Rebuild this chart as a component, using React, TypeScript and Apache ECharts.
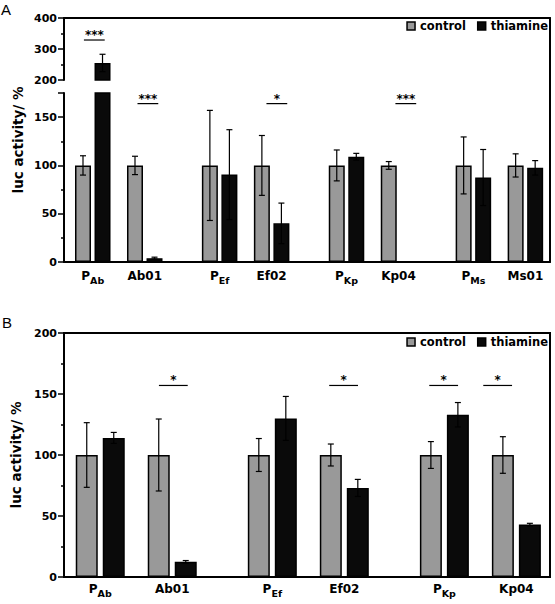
import React, { useEffect, useRef } from 'react';
import * as echarts from 'echarts';

// ---- Panel A: eight constructs, broken y axis (0–175 and 200–400) ----
const labelsA: [string, string][] = [
  ['P', 'Ab'], ['Ab01', ''], ['P', 'Ef'], ['Ef02', ''],
  ['P', 'Kp'], ['Kp04', ''], ['P', 'Ms'], ['Ms01', ''],
];
// group centres on the x value axis (pairs are spaced wider than their members)
const groupPosA = [0, 1, 2.44, 3.44, 4.88, 5.88, 7.32, 8.32];
const controlA = [100, 100, 100, 100, 100, 100, 100, 100];
const controlErrA = [10, 9.5, 57, 31, 16, 4, 29.5, 12];
const thiamineA = [255, 4, 90.5, 40, 109, 0, 87.5, 97.5];
const thiamineErrA = [28, 1, 46.5, 21, 3.5, 0, 29, 7.5];
const sigA = [
  { group: 0, y: 329, mark: '***', shift: 0.03 },
  { group: 1, y: 164, mark: '***', shift: 0.06 },
  { group: 3, y: 164, mark: '*', shift: 0.1 },
  { group: 5, y: 164, mark: '***', shift: 0.14 },
];

// ---- Panel B: six constructs ----
const labelsB: [string, string][] = [
  ['P', 'Ab'], ['Ab01', ''], ['P', 'Ef'], ['Ef02', ''], ['P', 'Kp'], ['Kp04', ''],
];
const groupPosB = [0, 1, 2.39, 3.39, 4.78, 5.78];
const controlB = [100, 100, 100, 100, 100, 100];
const controlErrB = [26.5, 29.5, 13.5, 9, 11, 15];
const thiamineB = [114, 12.5, 130, 73, 133, 43];
const thiamineErrB = [4.5, 1, 18, 7, 10, 1];
const sigB = [
  { group: 1, y: 157, mark: '*', shift: 0.015 },
  { group: 3, y: 157, mark: '*', shift: -0.01 },
  { group: 4, y: 157, mark: '*', shift: -0.01 },
  { group: 5, y: 157, mark: '*', shift: -0.26 },
];

const yTicksUpperA = [200, 300, 400];
const yTicksLowerA = [0, 50, 100, 150];
const yMinorLowerA = [25, 75, 125];

const FONT = 'DejaVu Sans';
const GRAY = '#999999';
const BLACK = '#0a0a0a';

const xFormatter = (labels: [string, string][], pos: number[]) => (v: number) => {
  const i = pos.findIndex((p) => Math.abs(p - v) < 1e-6);
  if (i < 0) return '';
  const [m, s] = labels[i];
  return s ? `{n|${m}}{s|${s}}` : `{n|${m}}`;
};

const xRich = {
  n: { fontSize: 12, fontWeight: 'bold', lineHeight: 18, color: '#000', fontFamily: FONT },
  s: { fontSize: 9.5, fontWeight: 'bold', lineHeight: 8, verticalAlign: 'bottom', color: '#000', fontFamily: FONT },
};

const errorRender = (offsetPx: number) => (params: any, api: any) => {
  const x = api.value(0);
  const v = api.value(1);
  const e = api.value(2);
  const side = api.value(3);
  if (!e) return null;
  const c = api.coord([x, v]);
  const hi = api.coord([x, v + e]);
  const lo = api.coord([x, v - e]);
  const cx = c[0] + side * offsetPx;
  const half = 3;
  const style = { stroke: '#000', lineWidth: 1.2 };
  return {
    type: 'group',
    children: [
      { type: 'line', shape: { x1: cx, y1: hi[1], x2: cx, y2: lo[1] }, style },
      { type: 'line', shape: { x1: cx - half, y1: hi[1], x2: cx + half, y2: hi[1] }, style },
      { type: 'line', shape: { x1: cx - half, y1: lo[1], x2: cx + half, y2: lo[1] }, style },
    ],
  };
};

const sigRender = (marks: string[]) => (params: any, api: any) => {
  const x = api.value(0);
  const y = api.value(1);
  const a = api.coord([x - 0.2, y]);
  const b = api.coord([x + 0.2, y]);
  return {
    type: 'group',
    children: [
      { type: 'line', shape: { x1: a[0], y1: a[1], x2: b[0], y2: b[1] }, style: { stroke: '#000', lineWidth: 1.2 } },
      {
        type: 'text',
        x: (a[0] + b[0]) / 2,
        y: a[1] - 5,
        style: {
          text: marks[params.dataIndex],
          fill: '#000',
          fontSize: 12,
          fontWeight: 'bold',
          fontFamily: FONT,
          align: 'center',
          verticalAlign: 'middle',
        },
      },
    ],
  };
};

const errData = (pos: number[], ctl: number[], ctlErr: number[], thi: number[], thiErr: number[]) => {
  const out: number[][] = [];
  pos.forEach((p, i) => {
    out.push([p, ctl[i], ctlErr[i], -1]);
    out.push([p, thi[i], thiErr[i], 1]);
  });
  return out;
};

const sigSeries = (sigs: typeof sigA, pos: number[], lo: number, hi: number, xi: number, yi: number) => {
  const list = sigs.filter((s) => s.y >= lo && s.y <= hi);
  return {
    type: 'custom',
    name: 'sig',
    xAxisIndex: xi,
    yAxisIndex: yi,
    clip: false,
    z: 4,
    itemStyle: { color: '#000' },
    renderItem: sigRender(list.map((s) => s.mark)),
    data: list.map((s) => [pos[s.group] + s.shift, s.y]),
  };
};

const barStyle = (color: string) => ({ color, borderColor: '#000', borderWidth: 1.5 });

const axisLineStyle = { show: true, onZero: false, lineStyle: { color: '#000', width: 2 } };
const yLabel = { color: '#000', fontWeight: 'bold', fontSize: 11, fontFamily: FONT, margin: 7 };

const App: React.FC = () => {
  const ref = useRef<HTMLDivElement>(null);

  useEffect(() => {
    if (!ref.current) return;
    const chart = echarts.init(ref.current, undefined, { renderer: 'svg' });

    const xMinA = -0.553, xMaxA = 8.793;
    const xMinB = -0.5035, xMaxB = 6.247;
    const barsA = (xi: number, yi: number) => [
      {
        type: 'bar', name: 'control', xAxisIndex: xi, yAxisIndex: yi, barWidth: 16, barGap: '22%',
        itemStyle: barStyle(GRAY), z: 2, data: groupPosA.map((p, i) => [p, controlA[i]]),
      },
      {
        type: 'bar', name: 'thiamine', xAxisIndex: xi, yAxisIndex: yi, barWidth: 16, barGap: '22%',
        itemStyle: barStyle(BLACK), z: 2, data: groupPosA.map((p, i) => [p, thiamineA[i]]),
      },
      {
        type: 'custom', name: 'err', xAxisIndex: xi, yAxisIndex: yi, clip: true, z: 3,
        itemStyle: { color: '#000' },
        renderItem: errorRender(9.76),
        data: errData(groupPosA, controlA, controlErrA, thiamineA, thiamineErrA),
      },
    ];

    const legendBase = {
      right: 7,
      padding: 0,
      icon: 'rect',
      itemWidth: 8,
      itemHeight: 8,
      itemGap: 11,
      textStyle: { color: '#000', fontWeight: 'bold', fontSize: 11.5, fontFamily: FONT },
      data: [
        { name: 'control', itemStyle: { color: GRAY, borderColor: '#000', borderWidth: 1.5 } },
        { name: 'thiamine', itemStyle: { color: BLACK, borderColor: '#000', borderWidth: 1.5 } },
      ],
    };

    chart.setOption({
      animation: false,
      textStyle: { fontFamily: FONT },
      title: [
        { text: 'A', left: 1, top: 2, padding: 0, textStyle: { fontSize: 15, fontWeight: 'normal', color: '#000', fontFamily: 'Liberation Sans' } },
        { text: 'B', left: 2, top: 315, padding: 0, textStyle: { fontSize: 15, fontWeight: 'normal', color: '#000', fontFamily: 'Liberation Sans' } },
      ],
      legend: [
        { ...legendBase, top: 20 },
        { ...legendBase, top: 336 },
      ],
      grid: [
        { left: 64, width: 486, top: 18, height: 62 },
        { left: 64, width: 486, top: 93, height: 169 },
        { left: 64, width: 486, top: 18, height: 244 },
        { left: 64, width: 486, top: 333, height: 244, show: true, borderColor: '#000', borderWidth: 2 },
      ],
      xAxis: [
        { gridIndex: 0, type: 'value', min: xMinA, max: xMaxA, show: false },
        {
          gridIndex: 1, type: 'value', min: xMinA, max: xMaxA,
          axisLine: axisLineStyle, axisTick: { show: false }, splitLine: { show: false },
          axisLabel: { customValues: groupPosA, formatter: xFormatter(labelsA, groupPosA), rich: xRich, margin: 5, hideOverlap: false },
        },
        {
          gridIndex: 2, type: 'value', position: 'top', min: 0, max: 1,
          axisLine: axisLineStyle, axisTick: { show: false }, axisLabel: { show: false }, splitLine: { show: false },
        },
        {
          gridIndex: 3, type: 'value', min: xMinB, max: xMaxB,
          axisLine: axisLineStyle, axisTick: { show: false }, splitLine: { show: false },
          axisLabel: { customValues: groupPosB, formatter: xFormatter(labelsB, groupPosB), rich: xRich, margin: 3, hideOverlap: false },
        },
      ],
      yAxis: [
        {
          gridIndex: 0, type: 'value', position: 'left', min: 200, max: 400, interval: 100,
          axisLine: axisLineStyle, splitLine: { show: false },
          axisTick: { show: true, customValues: yTicksUpperA, length: 6, lineStyle: { color: '#000', width: 1.5 } },
          minorTick: { show: true, splitNumber: 2, length: 3, lineStyle: { color: '#000', width: 1.5 } },
          axisLabel: { ...yLabel, customValues: yTicksUpperA },
        },
        {
          gridIndex: 1, type: 'value', position: 'left', min: 0, max: 175,
          axisLine: axisLineStyle, splitLine: { show: false },
          axisTick: { show: true, customValues: [...yTicksLowerA, 175], length: 6, lineStyle: { color: '#000', width: 1.5 } },
          axisLabel: { ...yLabel, customValues: yTicksLowerA },
        },
        {
          gridIndex: 1, type: 'value', position: 'left', min: 0, max: 175,
          axisLine: { show: false, onZero: false }, splitLine: { show: false }, axisLabel: { show: false },
          axisTick: { show: true, customValues: yMinorLowerA, length: 3, lineStyle: { color: '#000', width: 1.5 } },
        },
        {
          gridIndex: 2, type: 'value', position: 'right', min: 0, max: 1,
          axisLine: axisLineStyle, axisTick: { show: false }, axisLabel: { show: false }, splitLine: { show: false },
        },
        {
          gridIndex: 2, type: 'value', position: 'left', min: 0, max: 1,
          axisLine: { show: false, onZero: false }, axisTick: { show: false }, axisLabel: { show: false }, splitLine: { show: false },
          name: 'luc activity/ %', nameLocation: 'middle', nameGap: 39,
          nameTextStyle: { color: '#000', fontWeight: 'bold', fontSize: 13.5, fontFamily: FONT },
        },
        {
          gridIndex: 3, type: 'value', position: 'left', min: 0, max: 200, interval: 50,
          axisLine: axisLineStyle, splitLine: { show: false },
          axisTick: { show: true, length: 6, lineStyle: { color: '#000', width: 1.5 } },
          minorTick: { show: true, splitNumber: 2, length: 3, lineStyle: { color: '#000', width: 1.5 } },
          axisLabel: yLabel,
          name: 'luc activity/ %', nameLocation: 'middle', nameGap: 39,
          nameTextStyle: { color: '#000', fontWeight: 'bold', fontSize: 13.5, fontFamily: FONT },
        },
      ],
      series: [
        ...barsA(0, 0),
        ...barsA(1, 1),
        sigSeries(sigA, groupPosA, 200, 400, 0, 0),
        sigSeries(sigA, groupPosA, 0, 175, 1, 1),
        {
          type: 'bar', name: 'control', xAxisIndex: 3, yAxisIndex: 5, barWidth: 22, barGap: '22.7%',
          itemStyle: barStyle(GRAY), z: 2, data: groupPosB.map((p, i) => [p, controlB[i]]),
        },
        {
          type: 'bar', name: 'thiamine', xAxisIndex: 3, yAxisIndex: 5, barWidth: 22, barGap: '22.7%',
          itemStyle: barStyle(BLACK), z: 2, data: groupPosB.map((p, i) => [p, thiamineB[i]]),
        },
        {
          type: 'custom', name: 'err', xAxisIndex: 3, yAxisIndex: 5, clip: true, z: 3,
          itemStyle: { color: '#000' },
          renderItem: errorRender(13.5),
          data: errData(groupPosB, controlB, controlErrB, thiamineB, thiamineErrB),
        },
        sigSeries(sigB, groupPosB, 0, 200, 3, 5),
      ],
    });

    return () => chart.dispose();
  }, []);

  return <div ref={ref} style={{ position: 'fixed', left: 0, top: 0, width: 555, height: 604, background: '#fff' }} />;
};

export default App;
